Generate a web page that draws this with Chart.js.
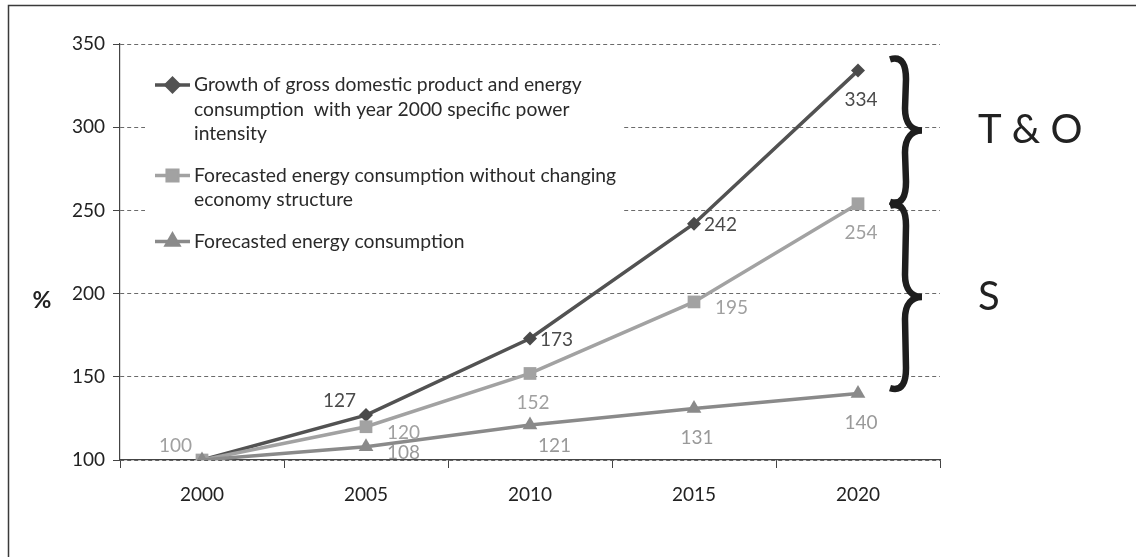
<!DOCTYPE html>
<html>
<head>
<meta charset="utf-8">
<script src="https://cdn.jsdelivr.net/npm/chart.js@4.4.1/dist/chart.umd.min.js"></script>
<style>
  html, body { margin: 0; padding: 0; background: #fff; }
  #wrap { width: 1136px; height: 557px; }
</style>
</head>
<body>
<div id="wrap"><canvas id="canvas" width="1136" height="557"></canvas></div>
<script>
// values
var years = ['2000', '2005', '2010', '2015', '2020'];
var gdpGrowth = [100, 127, 173, 242, 334];
var noStructChange = [100, 120, 152, 195, 254];
var forecast = [100, 108, 121, 131, 140];
var yTicks = [100, 150, 200, 250, 300, 350];

var legendLines = [
    ['Growth of gross domestic product and energy', 'consumption  with year 2000 specific power', 'intensity'],
    ['Forecasted energy consumption without changing', 'economy structure'],
    ['Forecasted energy consumption']
];

// braces on the right: [from, to] in % and their captions
var braceRanges = [[342, 254], [254, 142]];
var braceLabels = ['T & O', 'S'];

var FONT = 'Lato, "Open Sans", sans-serif';

// where each value label sits relative to its point
var labelPlace = {
    right:      { dx: 10, dy: 1,   align: 'left' },
    rightBelow: { dx: 21, dy: 6,   align: 'left' },
    belowRight: { dx: 8,  dy: 21,  align: 'left' },
    below:      { dx: 3,  dy: 29,  align: 'center' },
    aboveLeft:  { dx: -10, dy: -14, align: 'right' }
};

function drawBrace(ctx, x0, y0, y1, w) {
    var ym = (y0 + y1) / 2;
    var xs = x0 + w * 0.5;
    var r = Math.min(22, (y1 - y0) / 4);
    ctx.beginPath();
    ctx.moveTo(x0, y0 + 2);
    ctx.bezierCurveTo(x0 + w * 0.4, y0 - 2, xs, y0 + r * 0.4, xs, y0 + r);
    ctx.lineTo(xs - 1, ym - r);
    ctx.bezierCurveTo(xs - 1, ym - r * 0.3, xs + w * 0.2, ym, x0 + w, ym);
    ctx.bezierCurveTo(xs + w * 0.2, ym, xs - 1, ym + r * 0.3, xs - 1, ym + r);
    ctx.lineTo(xs, y1 - r);
    ctx.bezierCurveTo(xs, y1 - r * 0.4, x0 + w * 0.4, y1 + 2, x0, y1 - 2);
    ctx.stroke();
}

var extras = {
    id: 'extras',
    afterDraw: function (chart) {
        var ctx = chart.ctx;
        var area = chart.chartArea;
        var ys = chart.scales.y;
        ctx.save();

        // outer frame (only top and left show)
        ctx.strokeStyle = '#3a3a3a';
        ctx.lineWidth = 1.5;
        ctx.beginPath();
        ctx.moveTo(8.5, 557);
        ctx.lineTo(8.5, 5.5);
        ctx.lineTo(1136, 5.5);
        ctx.stroke();

        // axis caption
        ctx.fillStyle = '#222';
        ctx.font = 'bold 23px ' + FONT;
        ctx.textAlign = 'center';
        ctx.textBaseline = 'middle';
        ctx.fillText('%', 42, ys.getPixelForValue(196));

        // value labels
        ctx.font = '19px ' + FONT;
        chart.data.datasets.forEach(function (ds, i) {
            var meta = chart.getDatasetMeta(i);
            ds.labelPos.forEach(function (p, j) {
                if (!p) return;
                var pt = meta.data[j];
                var o = labelPlace[p];
                ctx.fillStyle = ds.labelColor;
                ctx.textAlign = o.align;
                ctx.fillText(String(ds.data[j]), pt.x + o.dx, pt.y + o.dy);
            });
        });

        // legend box inside the plot
        var lx = area.left + 25, ly = area.top + 14;
        ctx.fillStyle = '#fff';
        ctx.fillRect(lx, ly, 478, 170);
        var rowY = ly + 27;
        chart.data.datasets.forEach(function (ds, i) {
            ctx.strokeStyle = ds.borderColor;
            ctx.lineWidth = 3.5;
            ctx.beginPath();
            ctx.moveTo(lx + 10, rowY);
            ctx.lineTo(lx + 45, rowY);
            ctx.stroke();
            Chart.helpers.drawPoint(ctx, {
                pointStyle: ds.pointStyle,
                radius: ds.legendRadius,
                borderWidth: 1
            }, lx + 27.5, rowY);
            ctx.fillStyle = ds.borderColor;
            ctx.strokeStyle = ds.borderColor;
            ctx.fill();
            ctx.fillStyle = '#2a2a2a';
            ctx.font = '19.3px ' + FONT;
            ctx.textAlign = 'left';
            legendLines[i].forEach(function (t, k) {
                ctx.fillText(t, lx + 49, rowY + k * 24.5);
            });
            rowY += legendLines[i].length * 24.5 + 17;
        });

        // braces and captions
        ctx.strokeStyle = '#1e1e1e';
        ctx.lineWidth = 6.5;
        ctx.lineCap = 'butt';
        ctx.lineJoin = 'miter';
        braceRanges.forEach(function (r, i) {
            var y0 = ys.getPixelForValue(r[0]);
            var y1 = ys.getPixelForValue(r[1]);
            drawBrace(ctx, area.right - 50, y0, y1, 32);
            ctx.fillStyle = '#222';
            ctx.font = '400 40px ' + FONT;
            ctx.textAlign = 'left';
            ctx.fillText(braceLabels[i], area.right + 38, (y0 + y1) / 2);
        });

        ctx.restore();
    }
};

var chartData = {
    labels: years,
    datasets: [{
        label: legendLines[0].join(' '),
        data: gdpGrowth,
        borderColor: '#525252',
        backgroundColor: '#4a4a4a',
        pointStyle: 'rectRot',
        pointRadius: 7,
        legendRadius: 6.5,
        labelColor: '#4a4a4a',
        labelPos: [null, 'aboveLeft', 'right', 'right', 'below'],
        order: 3
    }, {
        label: legendLines[1].join(' '),
        data: noStructChange,
        borderColor: '#a2a2a2',
        backgroundColor: '#a2a2a2',
        pointStyle: 'rect',
        pointRadius: 9,
        legendRadius: 7.5,
        labelColor: '#a0a0a0',
        labelPos: ['aboveLeft', 'rightBelow', 'below', 'rightBelow', 'below'],
        order: 2
    }, {
        label: legendLines[2].join(' '),
        data: forecast,
        borderColor: '#8a8a8a',
        backgroundColor: '#8a8a8a',
        pointStyle: 'triangle',
        pointRadius: 8.5,
        legendRadius: 7,
        labelColor: '#999999',
        labelPos: [null, 'rightBelow', 'belowRight', 'below', 'below'],
        order: 1
    }]
};
chartData.datasets.forEach(function (ds) {
    ds.borderWidth = 3.5;
    ds.pointBorderWidth = 0;
    ds.pointHoverRadius = ds.pointRadius;
    ds.tension = 0;
});

var ctx = document.getElementById('canvas').getContext('2d');
window.myLine = new Chart(ctx, {
    type: 'line',
    data: chartData,
    plugins: [extras],
    options: {
        responsive: false,
        animation: false,
        layout: { padding: { top: 44, right: 196, left: 0, bottom: 0 } },
        plugins: {
            legend: { display: false },
            tooltip: { enabled: false }
        },
        scales: {
            x: {
                offset: true,
                afterFit: function (s) { s.height = 97; },
                grid: { offset: true, drawOnChartArea: false, drawTicks: true, tickLength: 8, color: '#444' },
                border: { color: '#444', width: 1.2 },
                ticks: { color: '#222', padding: 15, font: { family: FONT, size: 19 } }
            },
            y: {
                min: 100,
                max: 350,
                afterFit: function (s) { s.width = 120; },
                afterBuildTicks: function (s) {
                    s.ticks = yTicks.map(function (v) { return { value: v }; });
                },
                grid: { color: '#6a6a6a', tickLength: 7, tickBorderDash: [], tickColor: '#444', lineWidth: 1 },
                border: { color: '#444', width: 1.2, dash: [4, 3] },
                ticks: { color: '#222', padding: 8, font: { family: FONT, size: 19 } }
            }
        }
    }
});
</script>
</body>
</html>
